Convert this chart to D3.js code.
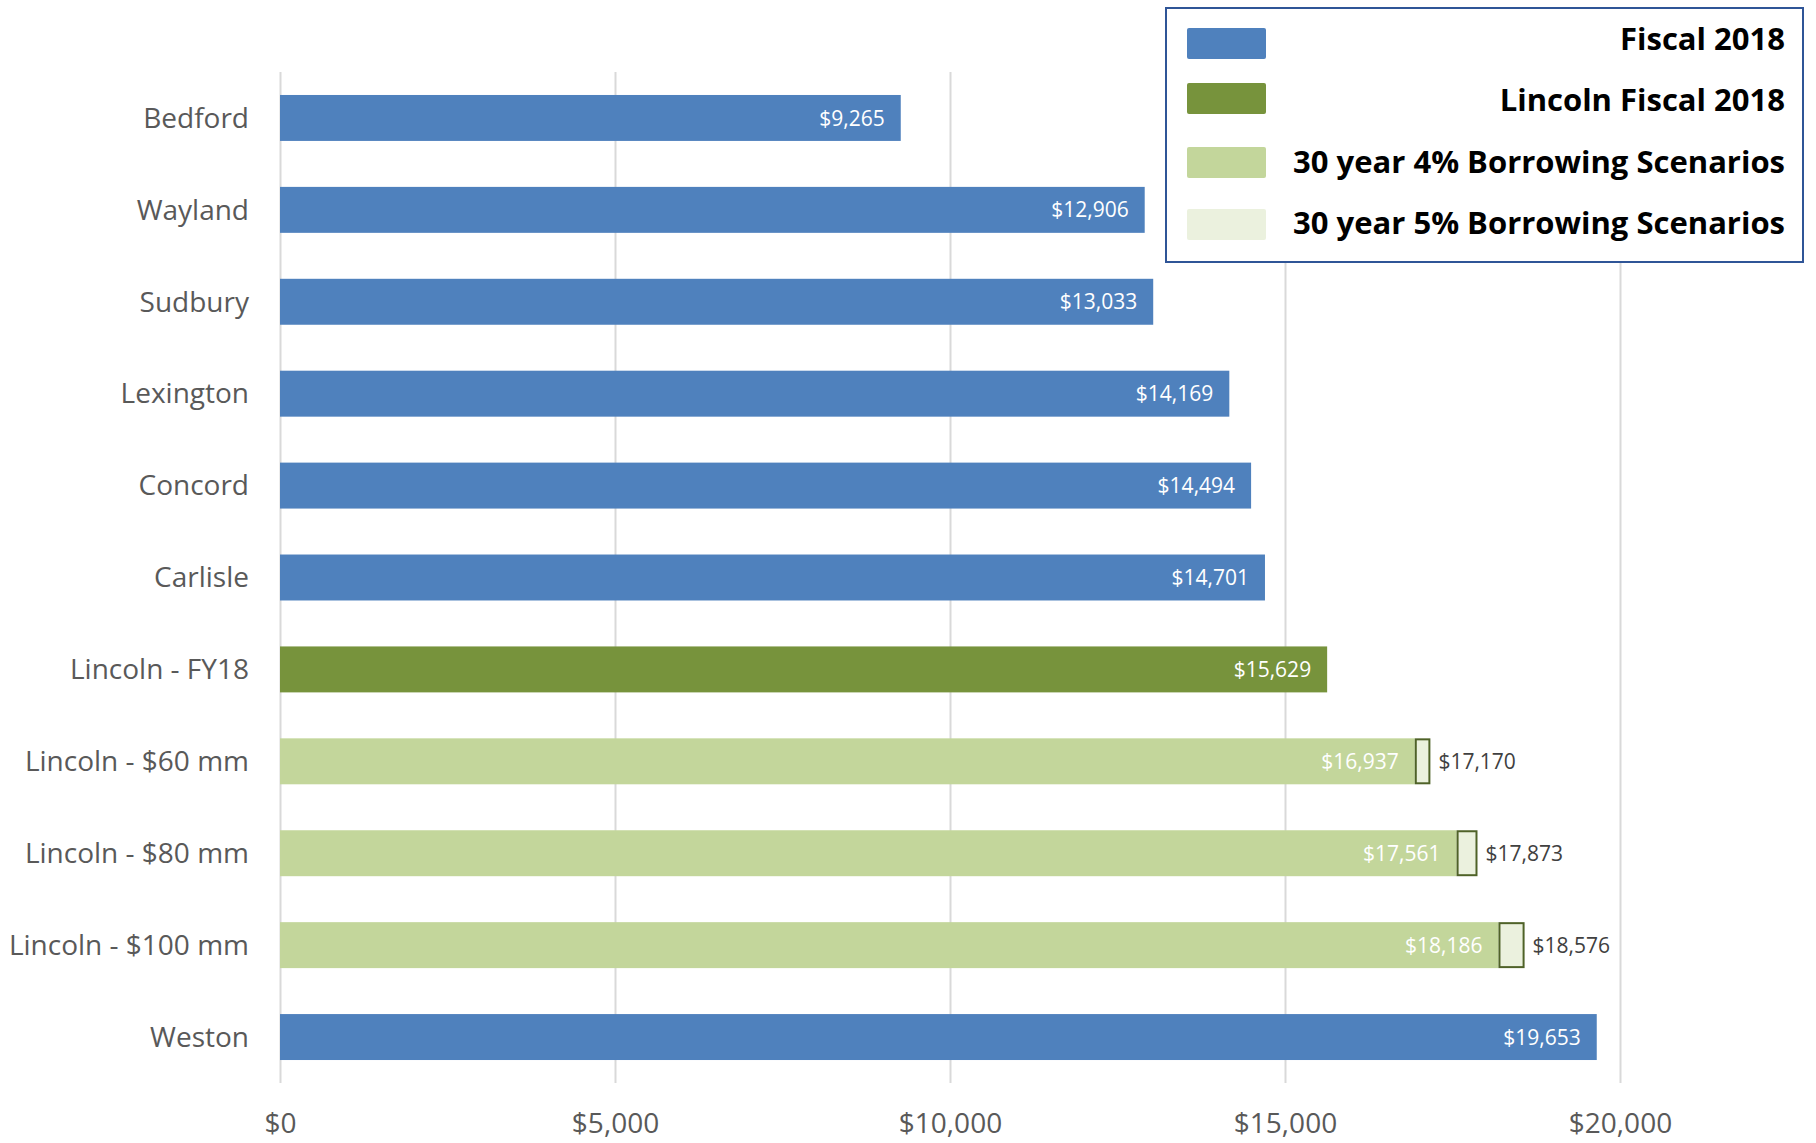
<!DOCTYPE html>
<html>
<head>
<meta charset="utf-8">
<script src="https://cdn.jsdelivr.net/npm/d3@7"></script>
<style>
  body { margin: 0; background: #fff; }
  svg { display: block; font-family: "Open Sans", sans-serif; }
</style>
</head>
<body>
<script>
// categories, top to bottom
const categories = ['Bedford', 'Wayland', 'Sudbury', 'Lexington', 'Concord', 'Carlisle',
  'Lincoln - FY18', 'Lincoln - $60 mm', 'Lincoln - $80 mm', 'Lincoln - $100 mm', 'Weston'];

// series values (null = no bar)
const fiscal2018 = [9265, 12906, 13033, 14169, 14494, 14701, null, null, null, null, 19653];
const lincolnFiscal2018 = [null, null, null, null, null, null, 15629, null, null, null, null];
const borrow4 = [null, null, null, null, null, null, null, 16937, 17561, 18186, null];
const borrow5 = [null, null, null, null, null, null, null, 17170, 17873, 18576, null];

const xTicks = [0, 5000, 10000, 15000, 20000];
const legendLabels = ['Fiscal 2018', 'Lincoln Fiscal 2018', '30 year 4% Borrowing Scenarios', '30 year 5% Borrowing Scenarios'];
const colors = ['#4F81BD', '#77933C', '#C3D69B', '#EBF1DE'];

const W = 1816, H = 1143;
const svg = d3.select('body').append('svg').attr('width', W).attr('height', H);

const x = d3.scaleLinear().domain([0, 20000]).range([280, 1620]);
const y = d3.scaleBand().domain(categories).range([72, 1083]).paddingInner(0.5).paddingOuter(0.25);
const fmt = d => '$' + d3.format(',')(d);

// gridlines + tick labels
const xAxis = d3.axisBottom(x).tickValues(xTicks).tickFormat(fmt).tickSize(-(1083 - 72)).tickPadding(30);
const gx = svg.append('g').attr('transform', 'translate(0,1083)').call(xAxis);
gx.select('.domain').remove();
gx.selectAll('.tick line').attr('stroke', '#D9D9D9').attr('stroke-width', 2);
gx.selectAll('.tick text').attr('fill', '#595959').style('font-size', '28px').style('font-family', '"Open Sans", sans-serif');

// category labels
svg.append('g').selectAll('text')
  .data(categories).enter().append('text')
  .attr('x', 249)
  .attr('y', d => y(d) + y.bandwidth() / 2)
  .attr('dy', '0.35em')
  .attr('text-anchor', 'end')
  .attr('fill', '#595959')
  .style('font-size', '28px')
  .text(d => d);

// bars from 0: fiscal, lincoln, borrow4
function zeroBars(values, color) {
  const rows = categories.map((c, i) => ({ c, v: values[i] })).filter(d => d.v != null);
  const g = svg.append('g');
  g.selectAll('rect').data(rows).enter().append('rect')
    .attr('x', x(0))
    .attr('y', d => y(d.c))
    .attr('width', d => x(d.v) - x(0))
    .attr('height', y.bandwidth())
    .attr('fill', color);
  g.selectAll('text').data(rows).enter().append('text')
    .attr('x', d => x(d.v) - 16)
    .attr('y', d => y(d.c) + y.bandwidth() / 2)
    .attr('dy', '0.36em')
    .attr('text-anchor', 'end')
    .attr('fill', '#fff')
    .style('font-size', '21px')
    .text(d => fmt(d.v));
}
zeroBars(fiscal2018, colors[0]);
zeroBars(lincolnFiscal2018, colors[1]);
zeroBars(borrow4, colors[2]);

// 5% extra segment, stacked on the 4% bar
const extra = categories.map((c, i) => ({ c, a: borrow4[i], b: borrow5[i] })).filter(d => d.b != null);
const g5 = svg.append('g');
g5.selectAll('rect').data(extra).enter().append('rect')
  .attr('x', d => x(d.a) + 1)
  .attr('y', d => y(d.c) + 1)
  .attr('width', d => x(d.b) - x(d.a) - 2)
  .attr('height', y.bandwidth() - 2)
  .attr('fill', colors[3])
  .attr('stroke', '#4F6228')
  .attr('stroke-width', 2);
g5.selectAll('text').data(extra).enter().append('text')
  .attr('x', d => x(d.b) + 8)
  .attr('y', d => y(d.c) + y.bandwidth() / 2)
  .attr('dy', '0.36em')
  .attr('fill', '#404040')
  .style('font-size', '21px')
  .text(d => fmt(d.b));

// legend
const legendY = [43, 98, 162, 224];
const legendTextY = [39, 100, 162, 223];
const lg = svg.append('g');
lg.append('rect').attr('x', 1166).attr('y', 8).attr('width', 637).attr('height', 254)
  .attr('fill', '#fff').attr('stroke', '#2F5597').attr('stroke-width', 2);
lg.selectAll('rect.sw').data(legendLabels).enter().append('rect')
  .attr('class', 'sw')
  .attr('x', 1187)
  .attr('y', (d, i) => legendY[i] - 15)
  .attr('width', 79)
  .attr('height', 31)
  .attr('rx', 2)
  .attr('fill', (d, i) => colors[i]);
lg.selectAll('text').data(legendLabels).enter().append('text')
  .attr('x', 1785)
  .attr('y', (d, i) => legendTextY[i])
  .attr('dy', '0.35em')
  .attr('text-anchor', 'end')
  .attr('fill', '#000')
  .style('font-size', '31px')
  .style('font-weight', 'bold')
  .text(d => d);
</script>
</body>
</html>
